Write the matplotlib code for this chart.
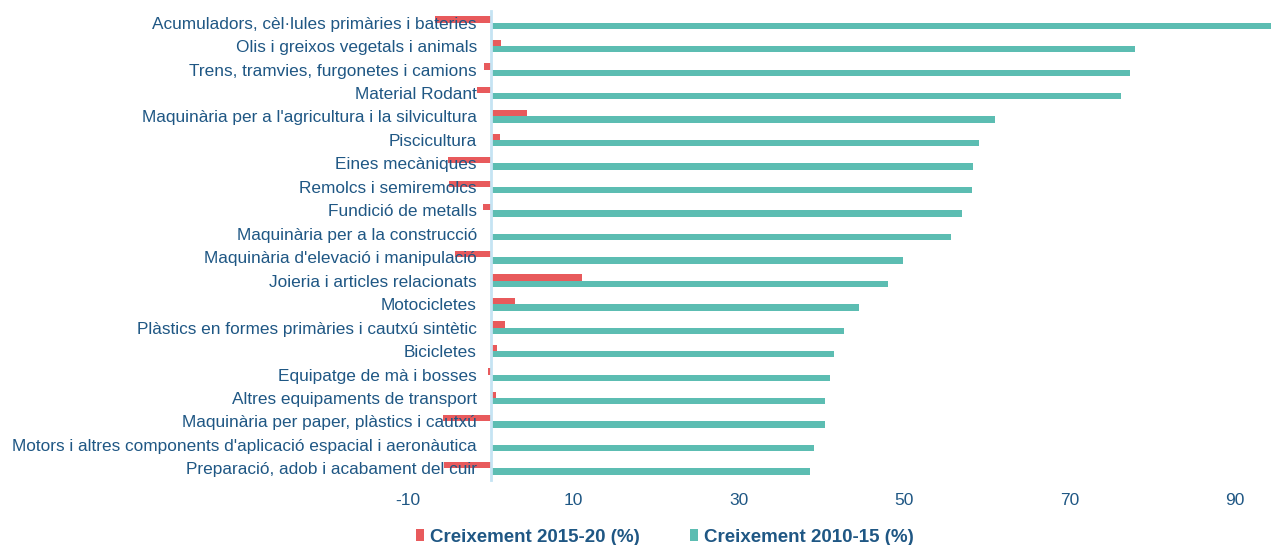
import matplotlib.pyplot as plt
import numpy as np

plt.rcParams['font.family'] = ['Liberation Sans', 'DejaVu Sans']

categories = [
    "Acumuladors, cèl·lules primàries i bateries",
    "Olis i greixos vegetals i animals",
    "Trens, tramvies, furgonetes i camions",
    "Material Rodant",
    "Maquinària per a l'agricultura i la silvicultura",
    "Piscicultura",
    "Eines mecàniques",
    "Remolcs i semiremolcs",
    "Fundició de metalls",
    "Maquinària per a la construcció",
    "Maquinària d'elevació i manipulació",
    "Joieria i articles relacionats",
    "Motocicletes",
    "Plàstics en formes primàries i cautxú sintètic",
    "Bicicletes",
    "Equipatge de mà i bosses",
    "Altres equipaments de transport",
    "Maquinària per paper, plàstics i cautxú",
    "Motors i altres components d'aplicació espacial i aeronàutica",
    "Preparació, adob i acabament del cuir",
]
growth_2015_20 = [-6.7, 1.25, -0.8, -1.7, 4.4, 1.1, -5.2, -5.0, -0.9, 0.0,
                  -4.3, 11.1, 2.9, 1.7, 0.8, -0.3, 0.6, -5.8, 0.2, -5.7]
growth_2010_15 = [96.0, 77.9, 77.4, 76.2, 61.0, 59.1, 58.3, 58.2, 57.0, 55.7,
                  49.9, 48.1, 44.5, 42.7, 41.5, 41.1, 40.5, 40.4, 39.1, 38.6]
xticks = [-10, 10, 30, 50, 70, 90]

red = "#e85a5c"
green = "#5cbdb2"
text_color = "#1f5784"

fig = plt.figure(figsize=(12.71, 5.45), dpi=100)
ax = fig.add_axes([0.321, 0.119, 0.679, 0.861])

# category labels sit on the zero line, so move the left spine there first
ax.spines['left'].set_position(('data', 0))
ax.spines['left'].set_color('#c5e4f3')
ax.spines['left'].set_linewidth(2)
for side in ['top', 'right', 'bottom']:
    ax.spines[side].set_visible(False)

y = np.arange(len(categories))
h = 0.27
ax.barh(y - h / 2, growth_2015_20, height=h, color=red, label="Creixement 2015-20 (%)")
ax.barh(y + h / 2, growth_2010_15, height=h, color=green, label="Creixement 2010-15 (%)")

ax.set_xlim(-10, 94.4)
ax.set_ylim(len(categories) - 0.5, -0.5)
ax.set_xticks(xticks)
ax.set_xticklabels([str(t) for t in xticks], fontsize=12.5, color=text_color)
ax.set_yticks(y)
ax.set_yticklabels(categories, fontsize=12.4, color=text_color)
ax.tick_params(axis='both', length=0)
ax.tick_params(axis='y', pad=10)
ax.tick_params(axis='x', pad=9)

leg = fig.legend(loc='lower center', bbox_to_anchor=(0.523, -0.032), ncol=2, frameon=False,
                 handlelength=0.45, handleheight=0.6, handletextpad=0.3, columnspacing=2.7,
                 prop={'size': 13.5, 'weight': 'bold'})
for t in leg.get_texts():
    t.set_color(text_color)

fig.savefig("out.png", dpi=100)
